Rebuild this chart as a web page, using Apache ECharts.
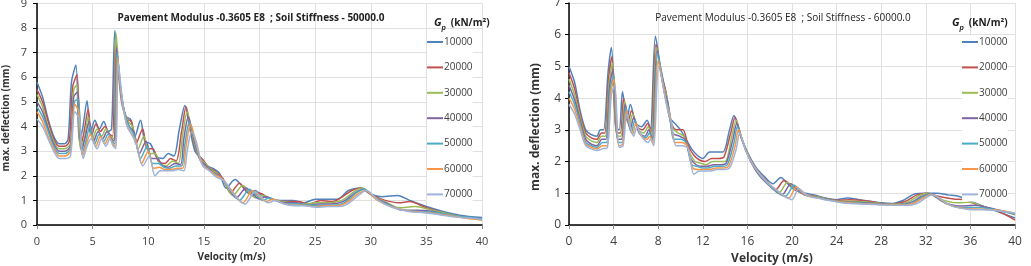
<!DOCTYPE html>
<html>
<head>
<meta charset="utf-8">
<script src="https://cdn.jsdelivr.net/npm/echarts@6/dist/echarts.min.js"></script>
<style>
  html, body { margin: 0; padding: 0; background: #fff; }
  #main { width: 1031px; height: 266px; }
</style>
</head>
<body>
<div id="main"></div>
<script>
// legend names (Gp, kN/m2) and colours
var gpNames = ['10000', '20000', '30000', '40000', '50000', '60000', '70000'];
var colors = ['#4F81BD', '#C0504D', '#9BBB59', '#8064A2', '#4BACC6', '#F79646', '#9DB3DA'];

var leftTitle = 'Pavement Modulus -0.3605 E8  ; Soil Stiffness - 50000.0';
var rightTitle = 'Pavement Modulus -0.3605 E8  ; Soil Stiffness - 60000.0';

// ---- soil stiffness 50000 : [velocity, max deflection] ----
var s50_10000 = [[0,5.8],[0.5,5.2],[1,4.3],[1.5,3.6],[2,3.3],[2.5,3.3],[2.8,3.5],[3.1,5.8],[3.5,6.5],[3.8,3.4],[4.1,3.9],[4.5,5.05],[4.8,3.7],[5.2,4.25],[5.6,3.9],[6,4.2],[6.4,3.8],[6.7,3.9],[7.0,7.9],[7.3,6.3],[7.6,5.0],[8,4.4],[8.4,4.3],[8.8,3.6],[9.3,4.25],[9.7,3.4],[10.2,3.3],[10.7,2.8],[11.3,2.7],[11.8,2.9],[12.3,2.8],[12.8,3.9],[13.3,4.85],[13.7,4.0],[14.2,3.0],[14.8,2.7],[15.3,2.4],[15.8,2.3],[16.4,2.1],[17,1.5],[17.8,1.85],[18.4,1.6],[19,1.3],[19.6,1.4],[20.2,1.2],[21,1.05],[22,1.0],[23,1.0],[24,0.9],[25,1.05],[26,1.05],[27,1.05],[28,1.4],[29,1.5],[30,1.25],[31,1.15],[32.4,1.2],[33.5,1.0],[35,0.75],[36.5,0.55],[38,0.4],[40,0.3]];
var s50_20000 = [[0,5.5],[0.5,5.0],[1,4.2],[1.5,3.5],[2,3.2],[2.5,3.2],[2.9,3.4],[3.2,5.6],[3.6,6.1],[3.9,3.2],[4.2,3.7],[4.6,4.7],[4.9,3.6],[5.3,4.1],[5.7,3.8],[6.1,4.0],[6.5,3.7],[6.8,3.6],[7.05,7.4],[7.4,6.0],[7.7,4.9],[8.1,4.3],[8.5,4.2],[8.9,3.3],[9.5,3.9],[9.9,3.1],[10.4,3.1],[10.9,2.6],[11.5,2.5],[12,2.7],[12.5,2.6],[13,3.8],[13.4,4.8],[13.8,3.9],[14.4,2.9],[15,2.6],[15.5,2.3],[16,2.2],[16.7,1.9],[17.4,1.3],[18.2,1.7],[18.8,1.4],[19.4,1.2],[20,1.3],[20.8,1.1],[21.6,1.0],[22.5,0.95],[23.5,0.95],[24.5,0.85],[25.5,1.0],[26.5,0.95],[27.3,1.1],[28.3,1.4],[29.1,1.5],[30.2,1.2],[31.3,1.0],[32.5,0.9],[33.5,0.95],[35,0.7],[36.5,0.5],[38,0.35],[40,0.25]];
var s50_30000 = [[0,5.3],[0.5,4.8],[1,4.0],[1.5,3.4],[2,3.1],[2.5,3.1],[3,3.3],[3.3,5.5],[3.6,5.7],[3.9,3.1],[4.3,3.6],[4.6,4.4],[5,3.5],[5.4,3.9],[5.8,3.6],[6.2,3.9],[6.6,3.6],[6.9,3.5],[7.1,7.8],[7.45,5.8],[7.8,4.7],[8.2,4.2],[8.6,4.0],[9.1,3.1],[9.6,3.6],[10.1,2.9],[10.6,2.9],[11.1,2.5],[11.6,2.4],[12.2,2.6],[12.7,2.5],[13.1,3.7],[13.5,4.6],[13.9,3.8],[14.5,2.8],[15.1,2.5],[15.6,2.25],[16.2,2.1],[16.9,1.7],[17.6,1.2],[18.5,1.6],[19.1,1.3],[19.7,1.1],[20.3,1.2],[21.1,1.05],[22,0.95],[23,0.9],[24,0.85],[25,0.9],[26,0.9],[27.4,1.0],[28.5,1.35],[29.2,1.5],[30.3,1.15],[31.5,0.9],[32.5,0.7],[34,0.75],[35.5,0.6],[37,0.45],[38.5,0.3],[40,0.2]];
var s50_40000 = [[0,5.0],[0.5,4.6],[1,3.9],[1.5,3.3],[2,3.0],[2.5,3.0],[3,3.2],[3.3,5.2],[3.65,5.4],[4,3.0],[4.3,3.5],[4.7,4.2],[5.1,3.4],[5.5,3.8],[5.9,3.5],[6.3,3.8],[6.7,3.5],[6.95,3.4],[7.15,7.2],[7.5,5.6],[7.9,4.5],[8.3,4.0],[8.7,3.8],[9.2,2.9],[9.8,3.4],[10.3,2.7],[10.8,2.7],[11.3,2.4],[11.8,2.35],[12.4,2.5],[12.9,2.45],[13.2,3.5],[13.6,4.4],[14,3.7],[14.6,2.7],[15.2,2.4],[15.8,2.15],[16.4,2.0],[17.1,1.6],[17.9,1.1],[18.8,1.5],[19.4,1.25],[20,1.05],[20.6,1.15],[21.4,1.0],[22.3,0.9],[23.3,0.9],[24.3,0.8],[25.3,0.85],[26.3,0.85],[27.5,0.95],[28.6,1.3],[29.3,1.45],[30.4,1.1],[31.6,0.85],[32.8,0.6],[34.2,0.6],[35.6,0.55],[37,0.4],[38.5,0.3],[40,0.22]];
var s50_50000 = [[0,4.8],[0.5,4.4],[1,3.8],[1.5,3.2],[2,2.9],[2.5,2.9],[3,3.1],[3.35,5.0],[3.7,5.1],[4.05,2.9],[4.4,3.4],[4.75,4.0],[5.2,3.3],[5.6,3.7],[6,3.4],[6.4,3.7],[6.75,3.4],[7,3.3],[7.2,7.0],[7.55,5.4],[8,4.3],[8.4,3.9],[8.8,3.6],[9.3,2.7],[9.9,3.2],[10.4,2.5],[10.9,2.5],[11.4,2.35],[11.9,2.3],[12.5,2.4],[13,2.4],[13.3,3.3],[13.7,4.2],[14.1,3.6],[14.7,2.6],[15.3,2.3],[15.9,2.1],[16.6,1.9],[17.3,1.5],[18.2,1.0],[19.1,1.45],[19.7,1.2],[20.3,1.0],[20.9,1.1],[21.7,0.95],[22.6,0.85],[23.6,0.85],[24.6,0.8],[25.6,0.8],[26.6,0.8],[27.6,0.9],[28.7,1.3],[29.4,1.45],[30.5,1.05],[31.7,0.8],[33,0.6],[34.5,0.55],[36,0.5],[37.5,0.38],[39,0.3],[40,0.25]];
var s50_60000 = [[0,4.6],[0.5,4.2],[1,3.6],[1.5,3.1],[2,2.8],[2.5,2.8],[3,3.0],[3.4,4.9],[3.75,4.6],[4.1,2.8],[4.45,3.3],[4.8,3.7],[5.3,3.2],[5.7,3.6],[6.1,3.3],[6.5,3.6],[6.8,3.3],[7.05,3.2],[7.25,6.8],[7.6,5.2],[8.05,4.1],[8.5,3.7],[8.9,3.4],[9.4,2.5],[10,3.0],[10.5,2.3],[11,2.35],[11.5,2.25],[12,2.25],[12.6,2.3],[13.1,2.3],[13.4,3.2],[13.8,4.1],[14.2,3.5],[14.8,2.5],[15.4,2.25],[16,2.05],[16.7,1.85],[17.5,1.4],[18.5,0.9],[19.4,1.4],[20,1.15],[20.6,0.95],[21.2,1.05],[22,0.9],[22.9,0.8],[23.9,0.8],[24.9,0.75],[25.9,0.78],[26.9,0.78],[27.8,0.9],[28.8,1.25],[29.5,1.4],[30.6,1.0],[31.8,0.75],[33.2,0.58],[34.6,0.52],[36,0.45],[37.5,0.35],[39,0.25],[40,0.2]];
var s50_70000 = [[0,4.3],[0.5,4.0],[1,3.5],[1.5,3.0],[2,2.7],[2.5,2.7],[3,2.8],[3.4,4.6],[3.8,4.3],[4.15,2.7],[4.5,3.2],[4.85,3.5],[5.4,3.1],[5.8,3.5],[6.2,3.2],[6.55,3.5],[6.85,3.2],[7.1,3.1],[7.3,6.6],[7.7,5.0],[8.1,4.0],[8.6,3.6],[9,3.2],[9.5,2.4],[10.1,2.8],[10.6,2.0],[11.1,2.2],[11.6,2.2],[12.1,2.2],[12.7,2.25],[13.2,2.2],[13.5,3.0],[13.9,3.8],[14.3,3.4],[14.9,2.4],[15.5,2.2],[16.1,1.95],[16.8,1.8],[17.6,1.3],[18.7,0.85],[19.6,1.35],[20.2,1.1],[20.8,0.9],[21.4,1.0],[22.2,0.85],[23.1,0.78],[24.1,0.78],[25.1,0.72],[26.1,0.75],[27.1,0.75],[27.9,0.85],[28.9,1.2],[29.6,1.4],[30.7,1.0],[31.9,0.72],[33.4,0.55],[34.8,0.5],[36.2,0.42],[37.7,0.32],[39,0.28],[40,0.22]];

// ---- soil stiffness 60000 ----
var s60_10000 = [[0,5.0],[0.5,4.5],[1,3.6],[1.5,3.0],[2,2.85],[2.5,2.8],[2.8,3.0],[3.1,3.0],[3.5,4.8],[3.8,5.6],[4.2,3.1],[4.5,3.0],[4.8,4.2],[5.2,3.3],[5.5,3.8],[6,3.2],[6.5,3.1],[7,3.3],[7.3,3.0],[7.75,5.95],[8.2,5.0],[8.6,4.3],[9,3.4],[9.5,3.2],[10,3.0],[10.5,2.7],[11,2.4],[11.5,2.2],[12,2.1],[12.6,2.3],[13.2,2.3],[13.8,2.3],[14.4,3.0],[14.8,3.45],[15.3,2.9],[16,2.3],[16.8,1.8],[17.6,1.5],[18.3,1.3],[19,1.5],[19.6,1.3],[20.3,1.1],[21.2,1.0],[22,0.95],[23,0.85],[24,0.8],[25,0.85],[26,0.8],[27,0.75],[28,0.7],[29,0.68],[30,0.78],[31,0.98],[32,1.0],[33,1.0],[34,0.95],[35,0.9],[36,0.75],[37.5,0.55],[39,0.35],[40,0.22]];
var s60_20000 = [[0,4.8],[0.5,4.3],[1,3.5],[1.5,2.9],[2,2.75],[2.5,2.7],[2.9,2.9],[3.2,2.9],[3.55,4.6],[3.85,5.3],[4.25,2.9],[4.6,2.9],[4.9,4.0],[5.3,3.2],[5.6,3.6],[6.1,3.1],[6.6,3.0],[7.05,3.2],[7.35,2.9],[7.8,5.7],[8.3,4.7],[8.7,4.2],[9.1,3.3],[9.6,3.0],[10.2,3.0],[10.7,2.5],[11.2,2.2],[11.7,2.05],[12.2,2.0],[12.8,2.1],[13.4,2.1],[13.9,2.15],[14.5,2.9],[14.9,3.4],[15.4,2.8],[16.1,2.2],[16.9,1.7],[17.7,1.4],[18.5,1.1],[19.3,1.4],[19.9,1.25],[20.6,1.05],[21.4,0.95],[22.2,0.9],[23.2,0.82],[24.2,0.78],[25.2,0.8],[26.2,0.78],[27.2,0.73],[28.2,0.68],[29.2,0.67],[30.2,0.75],[31.2,0.95],[32.1,1.0],[33.2,0.9],[34.5,0.82],[35.5,0.8],[36.5,0.65],[38,0.5],[39.3,0.3],[40,0.15]];
var s60_30000 = [[0,4.6],[0.5,4.1],[1,3.4],[1.5,2.8],[2,2.65],[2.5,2.6],[2.9,2.8],[3.25,2.8],[3.6,4.5],[3.9,5.1],[4.3,2.8],[4.65,2.8],[5,3.9],[5.4,3.1],[5.7,3.5],[6.2,3.0],[6.7,2.9],[7.1,3.1],[7.4,2.8],[7.85,5.6],[8.4,4.5],[8.8,4.0],[9.2,3.1],[9.8,2.9],[10.3,2.8],[10.8,2.3],[11.3,2.0],[11.8,1.95],[12.3,1.9],[12.9,2.0],[13.5,2.0],[14,2.0],[14.6,2.8],[15,3.3],[15.5,2.7],[16.2,2.1],[17,1.6],[17.9,1.3],[18.8,1.0],[19.6,1.35],[20.2,1.15],[20.9,1.0],[21.6,0.92],[22.4,0.88],[23.4,0.8],[24.4,0.75],[25.4,0.75],[26.4,0.73],[27.4,0.7],[28.4,0.66],[29.4,0.66],[30.4,0.72],[31.4,0.93],[32.2,1.0],[33.4,0.8],[34.8,0.7],[36,0.72],[37,0.6],[38.5,0.45],[39.5,0.38],[40,0.32]];
var s60_40000 = [[0,4.4],[0.5,3.95],[1,3.3],[1.5,2.7],[2,2.55],[2.5,2.5],[2.95,2.7],[3.3,2.7],[3.65,4.4],[3.95,4.9],[4.35,2.7],[4.7,2.7],[5.05,3.8],[5.5,3.0],[5.8,3.4],[6.3,2.9],[6.8,2.8],[7.15,3.0],[7.45,2.7],[7.9,5.5],[8.5,4.3],[8.9,3.8],[9.3,2.9],[9.9,2.8],[10.4,2.7],[10.9,2.1],[11.4,1.9],[11.9,1.85],[12.4,1.85],[13,1.9],[13.6,1.9],[14.1,1.95],[14.7,2.7],[15.05,3.2],[15.6,2.6],[16.3,2.0],[17.1,1.55],[18.1,1.2],[19.1,0.95],[19.9,1.3],[20.5,1.1],[21.1,0.95],[21.8,0.9],[22.6,0.85],[23.6,0.78],[24.6,0.72],[25.6,0.72],[26.6,0.7],[27.6,0.68],[28.6,0.65],[29.6,0.65],[30.6,0.7],[31.6,0.9],[32.3,0.98],[33.6,0.72],[35,0.6],[36.4,0.62],[37.5,0.55],[38.8,0.45],[40,0.35]];
var s60_50000 = [[0,4.2],[0.5,3.8],[1,3.2],[1.5,2.6],[2,2.5],[2.5,2.45],[3,2.6],[3.35,2.6],[3.7,4.3],[4,4.7],[4.4,2.6],[4.75,2.6],[5.1,3.7],[5.6,2.9],[5.9,3.3],[6.4,2.85],[6.9,2.75],[7.2,2.9],[7.5,2.6],[7.95,5.4],[8.6,4.1],[9,3.6],[9.4,2.7],[10,2.7],[10.5,2.6],[11,1.9],[11.5,1.85],[12,1.8],[12.5,1.8],[13.1,1.85],[13.7,1.85],[14.2,1.9],[14.8,2.6],[15.1,3.1],[15.7,2.5],[16.4,1.95],[17.3,1.5],[18.3,1.15],[19.4,0.9],[20.2,1.25],[20.8,1.05],[21.4,0.92],[22,0.88],[22.8,0.83],[23.8,0.76],[24.8,0.7],[25.8,0.7],[26.8,0.68],[27.8,0.66],[28.8,0.64],[29.8,0.64],[30.8,0.7],[31.8,0.9],[32.4,0.97],[33.8,0.68],[35.3,0.55],[36.7,0.55],[38,0.5],[39,0.42],[40,0.35]];
var s60_60000 = [[0,4.0],[0.5,3.65],[1,3.1],[1.5,2.55],[2,2.45],[2.5,2.4],[3,2.5],[3.4,2.5],[3.75,4.2],[4.05,4.6],[4.45,2.5],[4.8,2.55],[5.15,3.6],[5.7,2.85],[6,3.2],[6.5,2.8],[7,2.7],[7.25,2.8],[7.55,2.55],[8,5.2],[8.7,3.9],[9.1,3.4],[9.5,2.6],[10.1,2.6],[10.6,2.5],[11.1,1.8],[11.6,1.75],[12.1,1.75],[12.6,1.75],[13.2,1.8],[13.8,1.8],[14.3,1.85],[14.9,2.5],[15.2,3.0],[15.8,2.4],[16.5,1.9],[17.5,1.45],[18.6,1.1],[19.7,0.85],[20.4,1.2],[21,1.0],[21.6,0.9],[22.2,0.86],[23,0.8],[24,0.74],[25,0.7],[26,0.68],[27,0.66],[28,0.65],[29,0.63],[30,0.63],[31,0.7],[32,0.9],[32.5,0.96],[34,0.65],[35.5,0.52],[37,0.5],[38.3,0.47],[39.3,0.42],[40,0.38]];
var s60_70000 = [[0,3.8],[0.5,3.5],[1,3.0],[1.5,2.5],[2,2.4],[2.5,2.35],[3,2.4],[3.45,2.45],[3.8,4.1],[4.1,4.4],[4.5,2.45],[4.85,2.5],[5.2,3.5],[5.8,2.8],[6.1,3.1],[6.6,2.75],[7.1,2.6],[7.3,2.7],[7.6,2.5],[8.05,5.0],[8.8,3.7],[9.2,3.2],[9.6,2.5],[10.2,2.5],[10.7,2.4],[11.2,1.6],[11.7,1.7],[12.2,1.7],[12.7,1.7],[13.3,1.75],[13.9,1.75],[14.4,1.8],[15,2.4],[15.3,2.9],[15.9,2.3],[16.6,1.85],[17.6,1.4],[18.8,1.05],[20,0.8],[20.6,1.15],[21.2,0.98],[21.8,0.88],[22.4,0.84],[23.2,0.78],[24.2,0.72],[25.2,0.68],[26.2,0.66],[27.2,0.65],[28.2,0.63],[29.2,0.62],[30.2,0.62],[31.2,0.68],[32.1,0.88],[32.6,0.95],[34.2,0.62],[35.7,0.5],[37.2,0.48],[38.5,0.45],[39.5,0.4],[40,0.38]];

var leftData = [s50_10000, s50_20000, s50_30000, s50_40000, s50_50000, s50_60000, s50_70000];
var rightData = [s60_10000, s60_20000, s60_30000, s60_40000, s60_50000, s60_60000, s60_70000];

var myChart = echarts.init(document.getElementById('main'));

function makeSeries(list, idx) {
    return list.map(function (d, i) {
        return {
            name: gpNames[i],
            type: 'line',
            xAxisIndex: idx,
            yAxisIndex: idx,
            data: d,
            smooth: 0.3,
            showSymbol: false,
            lineStyle: { width: 1.5, color: colors[i] },
            itemStyle: { color: colors[i] },
            animation: false
        };
    });
}

function xAx(idx, step, nameSize, labelSize, gap, pad) {
    return {
        type: 'value', gridIndex: idx, min: 0, max: 40, interval: step,
        name: 'Velocity (m/s)', nameLocation: 'middle', nameGap: gap,
        nameTextStyle: { fontSize: nameSize, fontWeight: 'bold', color: '#333', fontFamily: 'Open Sans', padding: pad },
        axisLine: { lineStyle: { color: '#000', width: 1.5 } },
        axisTick: { length: 4, lineStyle: { color: '#888' } },
        axisLabel: { fontSize: labelSize, color: '#404040', margin: 11, fontFamily: 'Open Sans' },
        splitLine: { show: true, lineStyle: { color: '#e0e0e0' } }
    };
}

function yAx(idx, max, nameSize, labelSize, gap, pad) {
    return {
        type: 'value', gridIndex: idx, min: 0, max: max, interval: 1,
        name: 'max. deflection (mm)', nameLocation: 'middle', nameGap: gap,
        nameTextStyle: { fontSize: nameSize, fontWeight: 'bold', color: '#333', fontFamily: 'Open Sans', padding: pad },
        axisLine: { show: true, lineStyle: { color: '#000', width: 1.5 } },
        axisTick: { show: true, length: 4, lineStyle: { color: '#000' } },
        axisLabel: { fontSize: labelSize, color: '#404040', margin: idx ? 8 : 10, fontFamily: 'Open Sans' },
        splitLine: { show: true, lineStyle: { color: '#e0e0e0' } }
    };
}

function legendAt(left) {
    return {
        data: gpNames, orient: 'vertical', left: left, top: 35,
        itemWidth: 16, itemHeight: 2, icon: 'rect', itemGap: 11.4,
        backgroundColor: '#fff', padding: 0,
        textStyle: { fontSize: 10, color: '#404040', fontFamily: 'Open Sans', lineHeight: 14, padding: [0, 0, 0, -4] }
    };
}

var option = {
    animation: false,
    grid: [
        { left: 37, right: 549, top: 3.4, bottom: 41, containLabel: false, outerBoundsMode: 'none' },
        { left: 569, right: 16, top: 3, bottom: 41, containLabel: false, outerBoundsMode: 'none' }
    ],
    title: [
        { text: leftTitle, left: 246, top: 8, textAlign: 'center',
          textStyle: { fontSize: 10, fontWeight: 'bold', color: '#222', fontFamily: 'Open Sans' } },
        { text: rightTitle, left: 778, top: 8, textAlign: 'center',
          textStyle: { fontSize: 10, fontWeight: 'normal', color: '#222', fontFamily: 'Open Sans' } },
        { text: '{i|G}{s|p} {n|(kN/m²)}', left: 429, top: 9,
          textStyle: { rich: {
              i: { fontSize: 11, fontStyle: 'italic', color: '#222', fontFamily: 'Open Sans' },
              s: { fontSize: 7, fontStyle: 'italic', color: '#222', verticalAlign: 'bottom', padding: [6, 0, 0, 0] },
              n: { fontSize: 10, color: '#222', fontFamily: 'Open Sans' } } } },
        { text: '{i|G}{s|p} {n|(kN/m²)}', left: 947, top: 9,
          textStyle: { rich: {
              i: { fontSize: 11, fontStyle: 'italic', color: '#222', fontFamily: 'Open Sans' },
              s: { fontSize: 7, fontStyle: 'italic', color: '#222', verticalAlign: 'bottom', padding: [6, 0, 0, 0] },
              n: { fontSize: 10, color: '#222', fontFamily: 'Open Sans' } } } }
    ],
    legend: [legendAt(427), legendAt(962)],
    xAxis: [xAx(0, 5, 10, 11, 27, [0, 56, 0, 0]), xAx(1, 4, 12, 12, 27, [0, 40, 0, 0])],
    yAxis: [yAx(0, 9, 10, 11, 26, [0, 8, 0, 0]), yAx(1, 7, 12, 12, 27, [0, 26, 0, 0])],
    series: makeSeries(leftData, 0).concat(makeSeries(rightData, 1))
};

myChart.setOption(option);
</script>
</body>
</html>
